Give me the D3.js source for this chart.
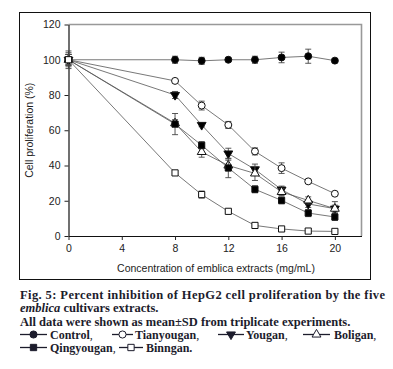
<!DOCTYPE html>
<html>
<head>
<meta charset="utf-8">
<script src="https://cdn.jsdelivr.net/npm/d3@7"></script>
<style>
  body { margin: 0; background: #fff; }
  svg text { font-family: "Liberation Sans", Arial, sans-serif; }
  .cap { font-family: "Liberation Serif", "Times New Roman", serif; font-weight: bold; font-size: 12.5px; fill: #1c1c2c; }
</style>
</head>
<body>
<div id="chart"></div>
<script>
// concentration of extracts (mg/mL)
var conc = [0, 8, 10, 12, 14, 16, 18, 20];

var control    = [100, 100, 99.4, 100, 100, 101.3, 102, 99.5];
var tianyougan = [100, 88, 74, 63, 48, 38.5, 31, 24];
var yougan     = [100, 80, 63, 46.8, 37.8, 26.3, 18.2, 15.5];
var boligan    = [100, 64, 47.7, 40, 35.5, 25, 20.2, 15.5];
var qingyougan = [100, 63.5, 51.5, 38.6, 26.5, 20.2, 13, 10.8];
var binngan    = [100, 35.8, 23.5, 14, 6, 4, 2.8, 2.6];

// standard deviations
var controlSd    = [5, 2, 2, 1, 2, 3, 4, 1];
var tianyouganSd = [3, 1, 2.5, 2, 2, 3, 1, 1];
var youganSd     = [3, 2, 1, 3, 3, 2, 2, 2];
var boliganSd    = [3, 2, 3, 3, 4, 2, 2, 4];
var qingyouganSd = [4, 6, 2, 5.5, 2, 2, 2, 2];
var binnganSd    = [3, 1, 2, 1, 1, 1, 1, 1];

var seriesNames = ['Control', 'Tianyougan', 'Yougan', 'Boligan', 'Qingyougan', 'Binngan'];
var xTicks = [0, 4, 8, 12, 16, 20];
var yTicks = [0, 20, 40, 60, 80, 100, 120];

var series = [
  {name: seriesNames[0], vals: control,    sd: controlSd,    sym: d3.symbolCircle,   fill: '#000', rot: 0},
  {name: seriesNames[1], vals: tianyougan, sd: tianyouganSd, sym: d3.symbolCircle,   fill: '#fff', rot: 0},
  {name: seriesNames[2], vals: yougan,     sd: youganSd,     sym: d3.symbolTriangle, fill: '#000', rot: 180},
  {name: seriesNames[3], vals: boligan,    sd: boliganSd,    sym: d3.symbolTriangle, fill: '#fff', rot: 0},
  {name: seriesNames[4], vals: qingyougan, sd: qingyouganSd, sym: d3.symbolSquare,   fill: '#000', rot: 0},
  {name: seriesNames[5], vals: binngan,    sd: binnganSd,    sym: d3.symbolSquare,   fill: '#fff', rot: 0}
];

var W = 393, H = 369;
var svg = d3.select('#chart').append('svg')
  .attr('width', W)
  .attr('height', H);

// outer frame round the figure
svg.append('rect')
  .attr('x', 19.5).attr('y', 12.5)
  .attr('width', 351).attr('height', 267)
  .attr('fill', 'none').attr('stroke', '#111').attr('stroke-width', 1);

var pl = 68.5, pt = 24.5, pr = 361.5, pb = 236;

var x = d3.scaleLinear().domain([0, 22]).range([pl, pr]);
var y = d3.scaleLinear().domain([0, 120]).range([pb, pt]);

// gray top/right frame lines
svg.append('path')
  .attr('d', `M${pl},${pt}H${pr}V${pb}`)
  .attr('fill', 'none').attr('stroke', '#999').attr('stroke-width', 1.6);

var xAxis = svg.append('g')
  .attr('transform', `translate(0,${pb})`)
  .call(d3.axisBottom(x).tickValues(xTicks).tickSize(4).tickPadding(5).tickSizeOuter(0));
var yAxis = svg.append('g')
  .attr('transform', `translate(${pl},0)`)
  .call(d3.axisLeft(y).tickValues(yTicks).tickSize(4).tickPadding(4).tickSizeOuter(0));

[xAxis, yAxis].forEach(function(a) {
  a.select('.domain').attr('stroke', '#111').attr('stroke-width', 1.2);
  a.selectAll('.tick line').attr('stroke', '#222');
  a.selectAll('.tick text').attr('font-size', 10.5).attr('fill', '#222')
    .attr('font-family', '"Liberation Sans", Arial, sans-serif');
});

svg.append('text')
  .attr('transform', `translate(33,${(pt + pb) / 2}) rotate(-90)`)
  .attr('text-anchor', 'middle')
  .attr('font-size', 10.5).attr('fill', '#222')
  .text('Cell proliferation (%)');

svg.append('text')
  .attr('x', 216).attr('y', 272)
  .attr('text-anchor', 'middle')
  .attr('font-size', 10.5).attr('fill', '#222')
  .text('Concentration of emblica extracts (mg/mL)');

var line = d3.line().x(d => x(d.c)).y(d => y(d.v));

series.forEach(function(s) {
  var pts = conc.map((c, i) => ({c: c, v: s.vals[i], sd: s.sd[i]}));
  var g = svg.append('g');
  g.append('path').datum(pts)
    .attr('d', line)
    .attr('fill', 'none').attr('stroke', '#555').attr('stroke-width', 0.8);
  var eb = g.selectAll('.eb').data(pts).enter().append('g').attr('class', 'eb');
  eb.append('line')
    .attr('x1', d => x(d.c)).attr('x2', d => x(d.c))
    .attr('y1', d => y(d.v - d.sd)).attr('y2', d => y(d.v + d.sd))
    .attr('stroke', '#444').attr('stroke-width', 0.9);
  [-1, 1].forEach(function(k) {
    eb.append('line')
      .attr('x1', d => x(d.c) - 3).attr('x2', d => x(d.c) + 3)
      .attr('y1', d => y(d.v + k * d.sd)).attr('y2', d => y(d.v + k * d.sd))
      .attr('stroke', '#444').attr('stroke-width', 0.9);
  });
  g.selectAll('.mk').data(pts).enter().append('path')
    .attr('class', 'mk')
    .attr('d', d3.symbol().type(s.sym).size(s.sym === d3.symbolTriangle ? 34 : 38))
    .attr('transform', d => `translate(${x(d.c)},${y(d.v)}) rotate(${s.rot})`)
    .attr('fill', s.fill).attr('stroke', '#111').attr('stroke-width', 1);
});

// caption
var cap = svg.append('g');
cap.append('text').attr('class', 'cap').attr('x', 20).attr('y', 299)
  .attr('textLength', 365).attr('lengthAdjust', 'spacing')
  .text('Fig. 5: Percent inhibition of HepG2 cell proliferation by the five');
var l2 = cap.append('text').attr('class', 'cap').attr('x', 20).attr('y', 312);
l2.append('tspan').attr('font-style', 'italic').text('emblica');
l2.append('tspan').text(' cultivars extracts.');
cap.append('text').attr('class', 'cap').attr('x', 20).attr('y', 325.5)
  .text('All data were shown as mean\u00b1SD from triplicate experiments.');

// legend rows in caption
var legendRows = [
  [{i: 0, x0: 20, x1: 47, tx: 50}, {i: 1, x0: 112, x1: 133, tx: 135}, {i: 2, x0: 218, x1: 244, tx: 246}, {i: 3, x0: 303, x1: 330, tx: 334}],
  [{i: 4, x0: 20, x1: 47, tx: 50}, {i: 5, x0: 119, x1: 143, tx: 146}]
];
var rowY = [334.5, 347.5];
legendRows.forEach(function(row, r) {
  row.forEach(function(it, j) {
    var s = series[it.i];
    var cy = rowY[r];
    cap.append('line').attr('x1', it.x0).attr('x2', it.x1).attr('y1', cy).attr('y2', cy)
      .attr('stroke', '#1c1c2c').attr('stroke-width', 1.3);
    cap.append('path')
      .attr('d', d3.symbol().type(s.sym).size(s.sym === d3.symbolTriangle ? 34 : 40))
      .attr('transform', `translate(${(it.x0 + it.x1) / 2},${cy}) rotate(${s.rot})`)
      .attr('fill', s.fill === '#000' ? '#1c1c2c' : '#fff').attr('stroke', '#1c1c2c').attr('stroke-width', 1);
    var t = cap.append('text').attr('class', 'cap').attr('x', it.tx).attr('y', cy + 4.5)
      .style('font-size', '12px');
    t.append('tspan').text(s.name);
    var last = (r === legendRows.length - 1 && j === row.length - 1);
    t.append('tspan').attr('font-style', last ? 'normal' : 'italic').attr('font-weight', last ? 'bold' : 'normal').text(last ? '.' : ',');
  });
});
</script>
</body>
</html>
